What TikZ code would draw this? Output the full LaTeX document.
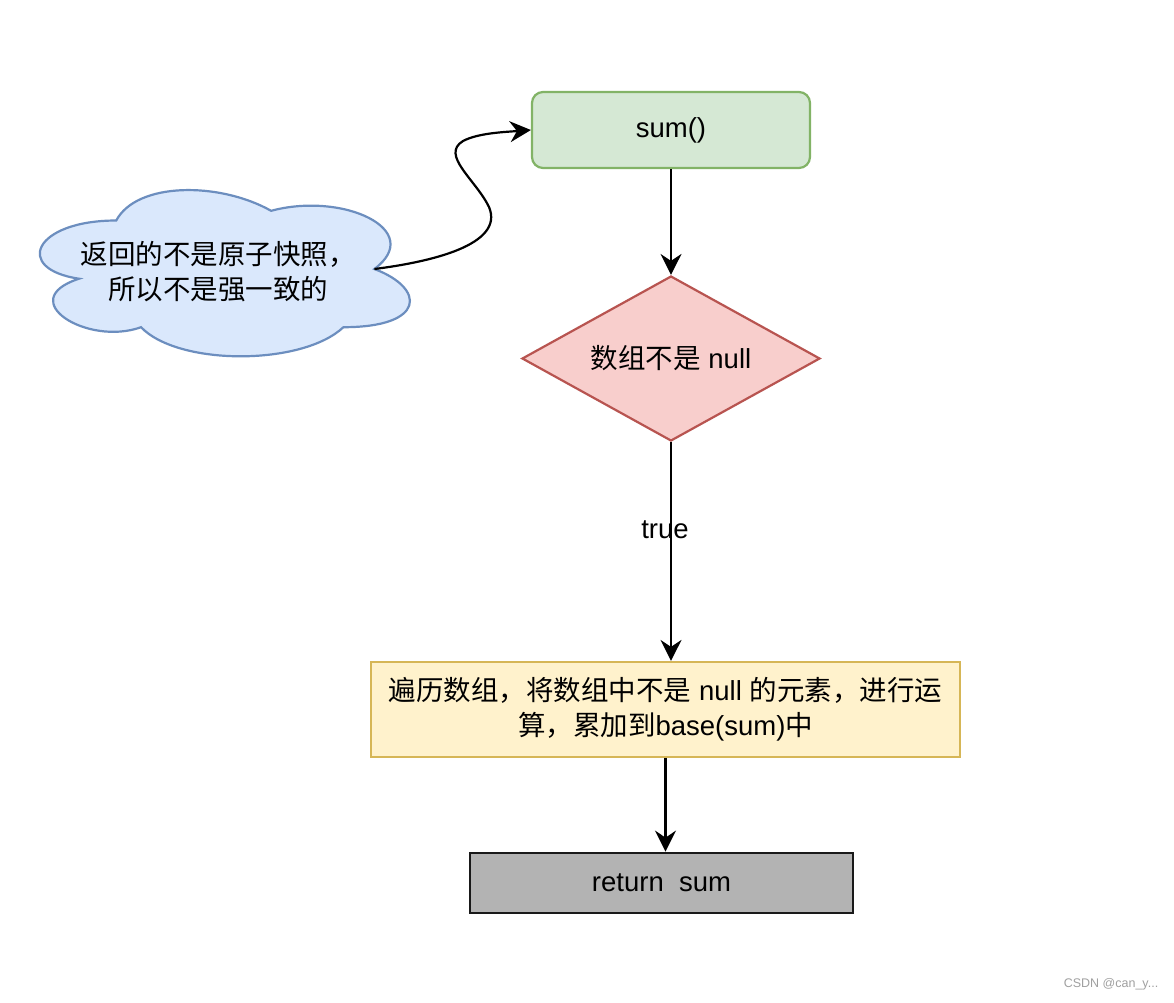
\documentclass[tikz,border=0pt]{standalone}
\usepackage{fontspec}
\setmainfont{Liberation Sans}
\newfontfamily\cjk{Noto Sans CJK SC}
\usetikzlibrary{arrows.meta,shapes.geometric}
\definecolor{gfill}{HTML}{D5E8D4}\definecolor{gdraw}{HTML}{82B366}
\definecolor{rfill}{HTML}{F8CECC}\definecolor{rdraw}{HTML}{B85450}
\definecolor{yfill}{HTML}{FFF2CC}\definecolor{ydraw}{HTML}{D6B656}
\definecolor{bfill}{HTML}{DAE8FC}\definecolor{bdraw}{HTML}{6C8EBF}
\definecolor{grfill}{HTML}{B3B3B3}\definecolor{wm}{HTML}{A0A0A0}
\begin{document}
\begin{tikzpicture}[x=1pt,y=-1pt,
  every node/.style={font=\fontsize{27.5}{35}\selectfont, inner sep=0pt},
  box/.style={draw, line width=2.2pt, align=center},
  conn/.style={line width=2.2pt, -{Stealth[length=21pt,width=21pt,inset=7pt]}}]
\useasboundingbox (0,0) rectangle (1174,1002);
\fill[white] (0,0) rectangle (1174,1002);
% cloud
\draw[line width=2.2pt, draw=bdraw, fill=bfill]
  (116.25,220.5) .. controls (33.65,220.5) and (13,269) .. (79.08,278.7)
  .. controls (13,300.04) and (87.34,346.6) .. (141.03,327.2)
  .. controls (178.2,366) and (302.1,366) .. (343.4,327.2)
  .. controls (426,327.2) and (426,288.4) .. (374.4,269)
  .. controls (426,230.2) and (343.4,191.4) .. (271.1,210.8)
  .. controls (219.5,181.7) and (136.9,181.7) .. (116.25,220.5) -- cycle;
\coordinate (cloudtip) at (374.4,269);
\node[align=center] (cloudtxt) at (218,272) {\cjk 返回的不是原子快照，\\\cjk 所以不是强一致的};
% nodes
\node[box, draw=gdraw, fill=gfill, rounded corners=11pt, minimum width=278pt, minimum height=76pt] (sumbox) at (671,130) {sum()};
\node[box, diamond, aspect=1.8, draw=rdraw, fill=rfill, minimum width=298pt, minimum height=165pt] (dia) at (671,358.5) {{\cjk 数组不是} null};
\node[box, draw=ydraw, fill=yfill, minimum width=589pt, minimum height=95pt] (work) at (665.5,709.5)
  {{\cjk 遍历数组，将数组中不是} null {\cjk 的元素，进行运}\\{\cjk 算，累加到}base(sum){\cjk 中}};
\node[box, draw=black!90, line width=2.8pt, fill=grfill, minimum width=383pt, minimum height=60pt] (ret) at (661.5,883) {return\ \ sum};
% connectors
\draw[conn] (sumbox.south) -- (dia.north);
\draw[conn] (dia.south) -- node[pos=0.4, xshift=-6pt] (truelbl) {true} (dia.south |- work.north);
\draw[conn] (work.south) -- (work.south |- ret.north);
\draw[conn] (cloudtip) .. controls (430,262) and (505,245) .. (489,207)
  .. controls (476,180) and (440,155) .. (463,141)
  .. controls (478,133) and (505,132) .. (sumbox.west);
% watermark
\node[font=\fontsize{12.5}{14}\selectfont, text=wm] (wmark) at (1111,984) {CSDN @can\_y...};
\end{tikzpicture}
\end{document}
